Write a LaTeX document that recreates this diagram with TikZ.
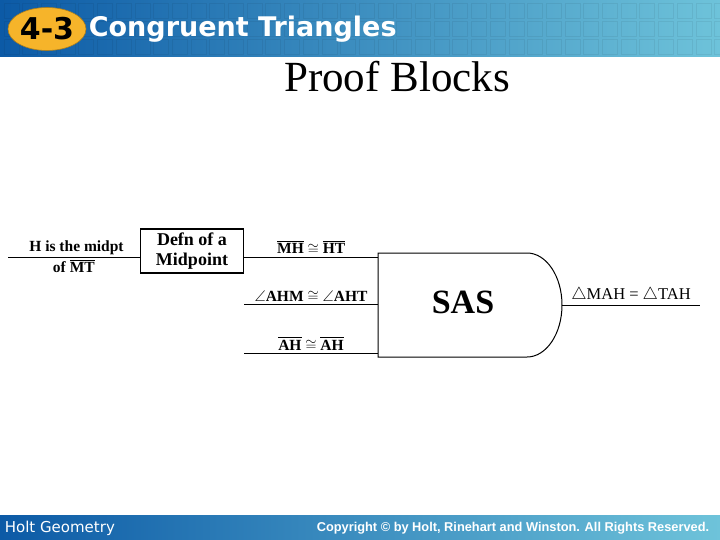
\documentclass[tikz,border=0pt]{standalone}
\usepackage{amssymb}
\usepackage{fontspec}
\usepackage{tikz}
\usepackage{xcolor}
\usetikzlibrary{positioning,shapes.geometric}
\setmainfont{Liberation Serif}
\newfontfamily\headfont{DejaVu Sans}
\newfontfamily\copyfont{Liberation Sans}
\definecolor{bandDark}{HTML}{0C5AA6}
\definecolor{bandLight}{HTML}{6EC3DA}
\definecolor{badge}{HTML}{F6B42A}
\newcommand{\ovl}[1]{$\overline{\mbox{#1}}$}

\begin{document}
\begin{tikzpicture}[x=1pt,y=-1pt,line width=1pt,
    lbl/.style={font=\fontsize{15.5}{17}\selectfont\bfseries,inner sep=2pt},
    defnbox/.style={draw,line width=1.6pt,font=\fontsize{18}{20}\selectfont\bfseries,align=center,minimum width=103pt,minimum height=44pt,inner sep=1pt}]
    \useasboundingbox (0,0) rectangle (720,540);
    % header and footer bands
    \shade[left color=bandDark,right color=bandLight] (0,0) rectangle (720,57);
    \shade[left color=bandDark,right color=bandLight] (0,515) rectangle (720,540);
    \foreach \i in {0,...,38}
    {
        \foreach \j in {0,1,2}
            \draw[black,opacity=0.06,line width=0.8pt] (4+\i*18.7,3+\j*18) rectangle ++(15,15);
    }
    \node[ellipse,fill=badge,draw=badge!70!black,line width=0.6pt,minimum width=78pt,minimum height=43pt] (badge) at (47,29) {};
    \node[font=\headfont\fontsize{30}{30}\selectfont\bfseries] (num) at (badge) {4-3};
    \node[font=\headfont\fontsize{27}{27}\selectfont\bfseries,text=white,anchor=west] (chap) at (85,29) {Congruent Triangles};
    \node[font=\headfont\fontsize{15}{15}\selectfont,text=white,anchor=west] (book) at (1,528) {Holt Geometry};
    \node[font=\copyfont\fontsize{12.8}{13}\selectfont\bfseries,text=white,anchor=east] (copy) at (713,528) {Copyright \textcopyright{} by Holt, Rinehart and Winston. All Rights Reserved.};
    \node[font=\fontsize{43}{43}\selectfont] (title) at (397,77) {Proof Blocks};

    % proof blocks
    \coordinate (given) at (8,257);
    \node[defnbox] (defn) at (192,251) {Defn of a\\Midpoint};
    \coordinate (in1) at (378,257);
    \coordinate (s2) at (244,304);
    \coordinate (in2) at (378,304);
    \coordinate (s3) at (244,353);
    \coordinate (in3) at (378,353);
    \draw (given) -- node[lbl,above,pos=0.52] (g1) {H is the midpt} node[lbl,below,pos=0.5] (g2) {of \ovl{MT}} (given-|defn.west);
    \draw (defn.east|-in1) -- node[lbl,above] (st1) {\ovl{MH} $\cong$ \ovl{HT}} (in1);
    \draw (s2) -- node[lbl,above] (st2) {$\angle$AHM $\cong$ $\angle$AHT} (in2);
    \draw (s3) -- node[lbl,above] (st3) {\ovl{AH} $\cong$ \ovl{AH}} (in3);
    % SAS block
    \draw (527,253) -- (378,253) -- (378,357) -- (527,357)
        arc[start angle=-90,end angle=90,x radius=35pt,y radius=52pt] -- cycle;
    \node[font=\fontsize{34}{34}\selectfont\bfseries] (sas) at (463,302) {SAS};
    \coordinate (out) at (562,305);
    \coordinate (concl) at (700,305);
    \draw (out) -- node[font=\fontsize{16.5}{18}\selectfont,above,inner sep=2pt] (st4) {$\triangle$MAH = $\triangle$TAH} (concl);
\end{tikzpicture}
\end{document}
